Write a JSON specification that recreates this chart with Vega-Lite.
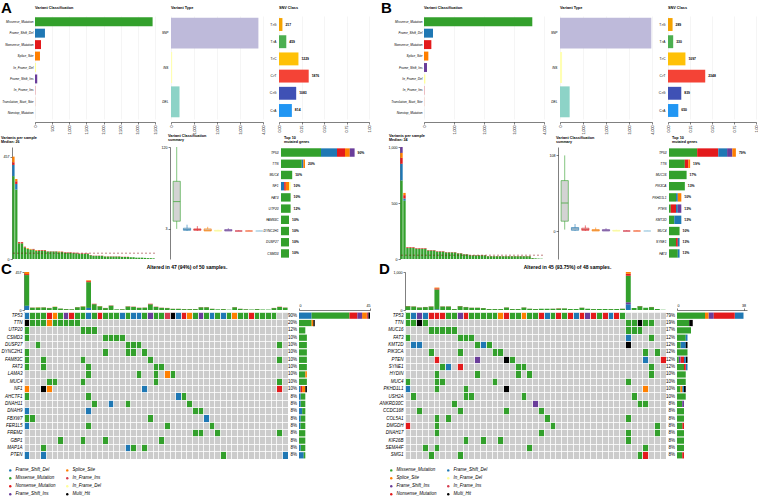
{
 "$schema": "https://vega.github.io/schema/vega-lite/v6.json",
 "padding": {"left": 0, "top": 1, "right": 0, "bottom": 0},
 "background": "#FFFFFF",
 "config": {
  "font": "Liberation Sans",
  "view": {"stroke": null},
  "axis": {"labelFontSize": 3.6, "labelColor": "#000000", "tickColor": "#000000", "domainColor": "#000000", "tickSize": 2, "tickWidth": 0.5, "domainWidth": 0.5, "labelPadding": 1, "grid": false, "gridColor": "#EBEBEB", "gridWidth": 0.5},
  "title": {"fontSize": 3.8, "fontWeight": "bold", "anchor": "start", "frame": "group", "offset": 6, "baseline": "alphabetic", "subtitleFontSize": 3.6, "subtitleFontWeight": "bold", "subtitlePadding": 1, "color": "#000000", "subtitleColor": "#000000"}
 },
 "datasets": {
  "aVC": [{"c":"Missense_Mutation","n":3430},{"c":"Frame_Shift_Del","n":290},{"c":"Nonsense_Mutation","n":175},{"c":"Splice_Site","n":145},{"c":"In_Frame_Del","n":30},{"c":"Frame_Shift_Ins","n":65},{"c":"In_Frame_Ins","n":8},{"c":"Translation_Start_Site","n":4},{"c":"Nonstop_Mutation","n":2}],
  "bVC": [{"c":"Missense_Mutation","n":3610},{"c":"Frame_Shift_Del","n":300},{"c":"Nonsense_Mutation","n":245},{"c":"Splice_Site","n":145},{"c":"Frame_Shift_Ins","n":100},{"c":"In_Frame_Del","n":45},{"c":"In_Frame_Ins","n":10},{"c":"Translation_Start_Site","n":5},{"c":"Nonstop_Mutation","n":3}],
  "aVT": [{"c":"SNP","n":3800},{"c":"INS","n":50},{"c":"DEL","n":370}],
  "bVT": [{"c":"SNP","n":3970},{"c":"INS","n":90},{"c":"DEL","n":420}],
  "aSNV": [{"c":"T>G","n":217,"f":0.038},{"c":"T>A","n":459,"f":0.081},{"c":"T>C","n":1229,"f":0.216},{"c":"C>T","n":1876,"f":0.330},{"c":"C>G","n":1083,"f":0.191},{"c":"C>A","n":814,"f":0.143}],
  "bSNV": [{"c":"T>G","n":289,"f":0.052},{"c":"T>A","n":330,"f":0.059},{"c":"T>C","n":1097,"f":0.198},{"c":"C>T","n":2348,"f":0.423},{"c":"C>G","n":839,"f":0.151},{"c":"C>A","n":650,"f":0.117}],
  "aBox": [{"c":"Missense_Mutation","lo":3,"q1":14,"med":42,"q3":71,"hi":120},{"c":"Frame_Shift_Del","lo":0,"q1":1,"med":2,"q3":4,"hi":9},{"c":"Nonsense_Mutation","lo":0,"q1":1,"med":2,"q3":3,"hi":7},{"c":"Splice_Site","lo":0,"q1":0,"med":1,"q3":3,"hi":6},{"c":"In_Frame_Del","lo":0,"q1":0,"med":0,"q3":1,"hi":2},{"c":"Frame_Shift_Ins","lo":0,"q1":0,"med":1,"q3":2,"hi":4},{"c":"In_Frame_Ins","lo":0,"q1":0,"med":0,"q3":0,"hi":1},{"c":"Translation_Start_Site","lo":0,"q1":0,"med":0,"q3":0,"hi":1},{"c":"Nonstop_Mutation","lo":0,"q1":0,"med":0,"q3":0,"hi":1}],
  "bBox": [{"c":"Missense_Mutation","lo":2,"q1":14,"med":40,"q3":72,"hi":108},{"c":"Frame_Shift_Del","lo":0,"q1":1,"med":3,"q3":5,"hi":10},{"c":"Nonsense_Mutation","lo":0,"q1":1,"med":2,"q3":4,"hi":8},{"c":"Splice_Site","lo":0,"q1":0,"med":1,"q3":2,"hi":5},{"c":"Frame_Shift_Ins","lo":0,"q1":0,"med":1,"q3":2,"hi":4},{"c":"In_Frame_Del","lo":0,"q1":0,"med":0,"q3":1,"hi":2},{"c":"In_Frame_Ins","lo":0,"q1":0,"med":0,"q3":0,"hi":1},{"c":"Translation_Start_Site","lo":0,"q1":0,"med":0,"q3":0,"hi":1},{"c":"Nonstop_Mutation","lo":0,"q1":0,"med":0,"q3":0,"hi":1}],
  "aTop": [
   {"g":"TP53","c":"Missense_Mutation","n":25,"pct":"90%"},{"g":"TP53","c":"Frame_Shift_Del","n":10,"pct":"90%"},{"g":"TP53","c":"Nonsense_Mutation","n":5,"pct":"90%"},{"g":"TP53","c":"Splice_Site","n":3,"pct":"90%"},{"g":"TP53","c":"Frame_Shift_Ins","n":3,"pct":"90%"},
   {"g":"TTN","c":"Missense_Mutation","n":13,"pct":"20%"},{"g":"TTN","c":"Frame_Shift_Del","n":1,"pct":"20%"},{"g":"TTN","c":"Splice_Site","n":1,"pct":"20%"},
   {"g":"MUC4","c":"Missense_Mutation","n":7,"pct":"10%"},
   {"g":"NF1","c":"Frame_Shift_Del","n":2,"pct":"10%"},{"g":"NF1","c":"Nonsense_Mutation","n":1,"pct":"10%"},{"g":"NF1","c":"Splice_Site","n":2,"pct":"10%"},{"g":"NF1","c":"In_Frame_Del","n":1,"pct":"10%"},
   {"g":"FAT3","c":"Missense_Mutation","n":6,"pct":"10%"},
   {"g":"UTP20","c":"Missense_Mutation","n":6,"pct":"12%"},
   {"g":"FAM83C","c":"Missense_Mutation","n":5,"pct":"10%"},
   {"g":"DYNC2H1","c":"Missense_Mutation","n":5,"pct":"10%"},
   {"g":"DUSP27","c":"Missense_Mutation","n":5,"pct":"10%"},
   {"g":"CSMD3","c":"Missense_Mutation","n":5,"pct":"10%"}],
  "bTop": [
   {"g":"TP53","c":"Missense_Mutation","n":16,"pct":"79%"},{"g":"TP53","c":"Nonsense_Mutation","n":12,"pct":"79%"},{"g":"TP53","c":"Frame_Shift_Del","n":5,"pct":"79%"},{"g":"TP53","c":"Frame_Shift_Ins","n":3,"pct":"79%"},{"g":"TP53","c":"Splice_Site","n":2,"pct":"79%"},
   {"g":"TTN","c":"Missense_Mutation","n":9,"pct":"19%"},{"g":"TTN","c":"Nonsense_Mutation","n":2,"pct":"19%"},{"g":"TTN","c":"Splice_Site","n":1,"pct":"19%"},
   {"g":"MUC16","c":"Missense_Mutation","n":10,"pct":"17%"},
   {"g":"PIK3CA","c":"Missense_Mutation","n":9,"pct":"13%"},
   {"g":"PKHD1L1","c":"Missense_Mutation","n":4,"pct":"10%"},{"g":"PKHD1L1","c":"Frame_Shift_Del","n":1,"pct":"10%"},{"g":"PKHD1L1","c":"Splice_Site","n":2,"pct":"10%"},
   {"g":"PTEN","c":"Missense_Mutation","n":1,"pct":"13%"},{"g":"PTEN","c":"Nonsense_Mutation","n":3,"pct":"13%"},{"g":"PTEN","c":"Frame_Shift_Del","n":1,"pct":"13%"},{"g":"PTEN","c":"Frame_Shift_Ins","n":2,"pct":"13%"},
   {"g":"KMT2D","c":"Missense_Mutation","n":3,"pct":"13%"},{"g":"KMT2D","c":"Frame_Shift_Del","n":4,"pct":"13%"},
   {"g":"MUC4","c":"Missense_Mutation","n":6,"pct":"10%"},
   {"g":"SYNE1","c":"Missense_Mutation","n":4,"pct":"13%"},{"g":"SYNE1","c":"Nonsense_Mutation","n":1,"pct":"13%"},{"g":"SYNE1","c":"Frame_Shift_Del","n":1,"pct":"13%"},
   {"g":"FAT3","c":"Missense_Mutation","n":5,"pct":"13%"},{"g":"FAT3","c":"Frame_Shift_Del","n":1,"pct":"13%"}],
  "aOrd": [{"c":"Missense_Mutation","r":1},{"c":"Frame_Shift_Del","r":2},{"c":"Nonsense_Mutation","r":3},{"c":"Splice_Site","r":4},{"c":"Frame_Shift_Ins","r":5},{"c":"In_Frame_Del","r":6},{"c":"In_Frame_Ins","r":7}],
  "bOrd": [{"c":"Missense_Mutation","r":1},{"c":"Nonsense_Mutation","r":2},{"c":"Frame_Shift_Del","r":3},{"c":"Frame_Shift_Ins","r":4},{"c":"Splice_Site","r":5},{"c":"In_Frame_Del","r":6}],
  "cOrd": [{"c":"Frame_Shift_Del","r":1},{"c":"Missense_Mutation","r":2},{"c":"Nonsense_Mutation","r":3},{"c":"Frame_Shift_Ins","r":4},{"c":"Splice_Site","r":5},{"c":"In_Frame_Ins","r":6},{"c":"In_Frame_Del","r":7},{"c":"Multi_Hit","r":8}],
  "dOrd": [{"c":"Missense_Mutation","r":1},{"c":"Splice_Site","r":2},{"c":"Frame_Shift_Ins","r":3},{"c":"Nonsense_Mutation","r":4},{"c":"Frame_Shift_Del","r":5},{"c":"In_Frame_Del","r":6},{"c":"In_Frame_Ins","r":7},{"c":"Multi_Hit","r":8}],
  "dOrdT": [{"c":"Frame_Shift_Del","r":1},{"c":"Frame_Shift_Ins","r":2},{"c":"Missense_Mutation","r":3},{"c":"Nonsense_Mutation","r":4},{"c":"Splice_Site","r":5}],
  "cTMB": [
   {"s":1,"c":"Missense_Mutation","n":370},{"s":1,"c":"Frame_Shift_Del","n":50},{"s":1,"c":"Nonsense_Mutation","n":12},{"s":1,"c":"Splice_Site","n":25},
   {"s":2,"c":"Missense_Mutation","n":28},{"s":2,"c":"Nonsense_Mutation","n":2},
   {"s":3,"c":"Missense_Mutation","n":30},{"s":3,"c":"Splice_Site","n":3},
   {"s":4,"c":"Missense_Mutation","n":31},{"s":4,"c":"Nonsense_Mutation","n":2},
   {"s":5,"c":"Missense_Mutation","n":23},{"s":5,"c":"Nonsense_Mutation","n":2},
   {"s":6,"c":"Missense_Mutation","n":37},{"s":6,"c":"Splice_Site","n":3},
   {"s":7,"c":"Missense_Mutation","n":17},{"s":7,"c":"Nonsense_Mutation","n":1},
   {"s":8,"c":"Missense_Mutation","n":11},{"s":8,"c":"Nonsense_Mutation","n":1},
   {"s":9,"c":"Missense_Mutation","n":9},{"s":9,"c":"Nonsense_Mutation","n":1},
   {"s":10,"c":"Missense_Mutation","n":33},{"s":10,"c":"Nonsense_Mutation","n":2},
   {"s":11,"c":"Missense_Mutation","n":42},{"s":11,"c":"Splice_Site","n":3},
   {"s":12,"c":"Missense_Mutation","n":310},{"s":12,"c":"Frame_Shift_Del","n":25},{"s":12,"c":"Nonsense_Mutation","n":12},{"s":12,"c":"Splice_Site","n":10},
   {"s":13,"c":"Missense_Mutation","n":70},{"s":13,"c":"Nonsense_Mutation","n":5},
   {"s":14,"c":"Missense_Mutation","n":45},{"s":14,"c":"Splice_Site","n":3},
   {"s":15,"c":"Missense_Mutation","n":23},{"s":15,"c":"Nonsense_Mutation","n":2},
   {"s":16,"c":"Missense_Mutation","n":52},{"s":16,"c":"Nonsense_Mutation","n":3},
   {"s":17,"c":"Missense_Mutation","n":8},
   {"s":18,"c":"Missense_Mutation","n":9},{"s":18,"c":"Nonsense_Mutation","n":1},
   {"s":19,"c":"Missense_Mutation","n":42},{"s":19,"c":"Nonsense_Mutation","n":3},
   {"s":20,"c":"Missense_Mutation","n":37},{"s":20,"c":"Nonsense_Mutation","n":3},
   {"s":21,"c":"Missense_Mutation","n":26},{"s":21,"c":"Nonsense_Mutation","n":2},
   {"s":22,"c":"Missense_Mutation","n":28},{"s":22,"c":"Nonsense_Mutation","n":2},
   {"s":23,"c":"Missense_Mutation","n":70},{"s":23,"c":"Nonsense_Mutation","n":5},
   {"s":24,"c":"Missense_Mutation","n":37},{"s":24,"c":"Nonsense_Mutation","n":3},
   {"s":25,"c":"Missense_Mutation","n":26},{"s":25,"c":"Nonsense_Mutation","n":2},
   {"s":26,"c":"Missense_Mutation","n":23},{"s":26,"c":"Nonsense_Mutation","n":2},
   {"s":27,"c":"Missense_Mutation","n":14},{"s":27,"c":"Nonsense_Mutation","n":1},
   {"s":28,"c":"Missense_Mutation","n":14},{"s":28,"c":"Nonsense_Mutation","n":1},
   {"s":29,"c":"Missense_Mutation","n":11},{"s":29,"c":"Nonsense_Mutation","n":1},
   {"s":30,"c":"Missense_Mutation","n":11},{"s":30,"c":"Nonsense_Mutation","n":1},
   {"s":31,"c":"Missense_Mutation","n":11},{"s":31,"c":"Nonsense_Mutation","n":1},
   {"s":32,"c":"Missense_Mutation","n":33},{"s":32,"c":"Nonsense_Mutation","n":2},
   {"s":33,"c":"Missense_Mutation","n":33},{"s":33,"c":"Nonsense_Mutation","n":2},
   {"s":34,"c":"Missense_Mutation","n":14},{"s":34,"c":"Nonsense_Mutation","n":1},
   {"s":35,"c":"Missense_Mutation","n":8},
   {"s":36,"c":"Missense_Mutation","n":11},{"s":36,"c":"Nonsense_Mutation","n":1},
   {"s":37,"c":"Missense_Mutation","n":4},
   {"s":38,"c":"Missense_Mutation","n":33},{"s":38,"c":"Nonsense_Mutation","n":2},
   {"s":39,"c":"Missense_Mutation","n":14},{"s":39,"c":"Nonsense_Mutation","n":1},
   {"s":40,"c":"Missense_Mutation","n":9},{"s":40,"c":"Nonsense_Mutation","n":1},
   {"s":41,"c":"Missense_Mutation","n":6},
   {"s":42,"c":"Missense_Mutation","n":11},{"s":42,"c":"Nonsense_Mutation","n":1},
   {"s":43,"c":"Missense_Mutation","n":6},
   {"s":44,"c":"Missense_Mutation","n":5},
   {"s":45,"c":"Missense_Mutation","n":23},{"s":45,"c":"Nonsense_Mutation","n":2},
   {"s":46,"c":"Missense_Mutation","n":37},{"s":46,"c":"Nonsense_Mutation","n":3},
   {"s":47,"c":"Missense_Mutation","n":28},{"s":47,"c":"Nonsense_Mutation","n":2},
   {"s":48,"c":"Missense_Mutation","n":6},{"s":49,"c":"Missense_Mutation","n":4},{"s":50,"c":"Missense_Mutation","n":3}],
  "dTMB": [
   {"s":1,"c":"Missense_Mutation","n":100},{"s":1,"c":"Nonsense_Mutation","n":6},
   {"s":2,"c":"Missense_Mutation","n":92},{"s":2,"c":"Nonsense_Mutation","n":5},
   {"s":3,"c":"Missense_Mutation","n":66},{"s":3,"c":"Nonsense_Mutation","n":4},
   {"s":4,"c":"Missense_Mutation","n":76},{"s":4,"c":"Nonsense_Mutation","n":4},
   {"s":5,"c":"Missense_Mutation","n":92},{"s":5,"c":"Nonsense_Mutation","n":5},
   {"s":6,"c":"Frame_Shift_Del","n":20},{"s":6,"c":"Missense_Mutation","n":520},{"s":6,"c":"Nonsense_Mutation","n":30},{"s":6,"c":"Splice_Site","n":20},
   {"s":7,"c":"Missense_Mutation","n":92},{"s":7,"c":"Nonsense_Mutation","n":5},
   {"s":8,"c":"Missense_Mutation","n":92},{"s":8,"c":"Nonsense_Mutation","n":5},
   {"s":9,"c":"Missense_Mutation","n":25},{"s":9,"c":"Nonsense_Mutation","n":2},
   {"s":10,"c":"Missense_Mutation","n":100},{"s":10,"c":"Nonsense_Mutation","n":6},
   {"s":11,"c":"Missense_Mutation","n":76},{"s":11,"c":"Nonsense_Mutation","n":4},
   {"s":12,"c":"Missense_Mutation","n":59},{"s":12,"c":"Nonsense_Mutation","n":3},
   {"s":13,"c":"Missense_Mutation","n":59},{"s":13,"c":"Nonsense_Mutation","n":3},
   {"s":14,"c":"Missense_Mutation","n":50},{"s":14,"c":"Nonsense_Mutation","n":3},
   {"s":15,"c":"Missense_Mutation","n":25},{"s":15,"c":"Nonsense_Mutation","n":2},
   {"s":16,"c":"Missense_Mutation","n":25},{"s":16,"c":"Nonsense_Mutation","n":2},
   {"s":17,"c":"Missense_Mutation","n":25},{"s":17,"c":"Nonsense_Mutation","n":2},
   {"s":18,"c":"Missense_Mutation","n":66},{"s":18,"c":"Nonsense_Mutation","n":4},
   {"s":19,"c":"Missense_Mutation","n":25},{"s":19,"c":"Nonsense_Mutation","n":2},
   {"s":20,"c":"Missense_Mutation","n":25},{"s":20,"c":"Nonsense_Mutation","n":2},
   {"s":21,"c":"Missense_Mutation","n":66},{"s":21,"c":"Nonsense_Mutation","n":4},
   {"s":22,"c":"Missense_Mutation","n":33},{"s":22,"c":"Nonsense_Mutation","n":2},
   {"s":23,"c":"Missense_Mutation","n":25},{"s":23,"c":"Nonsense_Mutation","n":2},
   {"s":24,"c":"Missense_Mutation","n":33},{"s":24,"c":"Nonsense_Mutation","n":2},
   {"s":25,"c":"Missense_Mutation","n":33},{"s":25,"c":"Nonsense_Mutation","n":2},
   {"s":26,"c":"Missense_Mutation","n":33},{"s":26,"c":"Nonsense_Mutation","n":2},
   {"s":27,"c":"Missense_Mutation","n":42},{"s":27,"c":"Nonsense_Mutation","n":2},
   {"s":28,"c":"Missense_Mutation","n":42},{"s":28,"c":"Nonsense_Mutation","n":2},
   {"s":29,"c":"Missense_Mutation","n":25},{"s":29,"c":"Nonsense_Mutation","n":2},
   {"s":30,"c":"Missense_Mutation","n":25},{"s":30,"c":"Nonsense_Mutation","n":2},
   {"s":31,"c":"Missense_Mutation","n":59},{"s":31,"c":"Nonsense_Mutation","n":3},
   {"s":32,"c":"Missense_Mutation","n":33},{"s":32,"c":"Nonsense_Mutation","n":2},
   {"s":33,"c":"Missense_Mutation","n":25},{"s":33,"c":"Nonsense_Mutation","n":2},
   {"s":34,"c":"Missense_Mutation","n":25},{"s":34,"c":"Nonsense_Mutation","n":2},
   {"s":35,"c":"Missense_Mutation","n":25},{"s":35,"c":"Nonsense_Mutation","n":2},
   {"s":36,"c":"Missense_Mutation","n":25},{"s":36,"c":"Nonsense_Mutation","n":2},
   {"s":37,"c":"Missense_Mutation","n":25},{"s":37,"c":"Nonsense_Mutation","n":2},
   {"s":38,"c":"Missense_Mutation","n":33},{"s":38,"c":"Nonsense_Mutation","n":2},
   {"s":39,"c":"Frame_Shift_Del","n":150},{"s":39,"c":"Frame_Shift_Ins","n":53},{"s":39,"c":"Missense_Mutation","n":700},{"s":39,"c":"Nonsense_Mutation","n":53},{"s":39,"c":"Splice_Site","n":44},
   {"s":40,"c":"Missense_Mutation","n":50},{"s":40,"c":"Nonsense_Mutation","n":3},
   {"s":41,"c":"Missense_Mutation","n":100},{"s":41,"c":"Nonsense_Mutation","n":6},
   {"s":42,"c":"Missense_Mutation","n":59},{"s":42,"c":"Nonsense_Mutation","n":3},
   {"s":43,"c":"Missense_Mutation","n":76},{"s":43,"c":"Nonsense_Mutation","n":4},
   {"s":44,"c":"Missense_Mutation","n":25},{"s":44,"c":"Nonsense_Mutation","n":2},
   {"s":45,"c":"Missense_Mutation","n":8},{"s":45,"c":"Nonsense_Mutation","n":1},
   {"s":46,"c":"Missense_Mutation","n":6},{"s":47,"c":"Missense_Mutation","n":4},{"s":48,"c":"Missense_Mutation","n":3}],
  "cGenes": [{"g":"TP53","pct":"90%"},{"g":"TTN","pct":"20%"},{"g":"UTP20","pct":"12%"},{"g":"CSMD3","pct":"10%"},{"g":"DUSP27","pct":"10%"},{"g":"DYNC2H1","pct":"10%"},{"g":"FAM83C","pct":"10%"},{"g":"FAT3","pct":"10%"},{"g":"LAMA3","pct":"10%"},{"g":"MUC4","pct":"10%"},{"g":"NF1","pct":"10%"},{"g":"AHCTF1","pct":"8%"},{"g":"DNAH11","pct":"8%"},{"g":"DNAH9","pct":"8%"},{"g":"FBXW7","pct":"8%"},{"g":"FER1L5","pct":"8%"},{"g":"FREM2","pct":"8%"},{"g":"GBP1","pct":"8%"},{"g":"MAP1A","pct":"8%"},{"g":"PTEN","pct":"8%"}],
  "dGenes": [{"g":"TP53","pct":"79%"},{"g":"TTN","pct":"19%"},{"g":"MUC16","pct":"17%"},{"g":"FAT3","pct":"12%"},{"g":"KMT2D","pct":"12%"},{"g":"PIK3CA","pct":"12%"},{"g":"PTEN","pct":"12%"},{"g":"SYNE1","pct":"12%"},{"g":"HYDIN","pct":"10%"},{"g":"MUC4","pct":"10%"},{"g":"PKHD1L1","pct":"10%"},{"g":"USH2A","pct":"10%"},{"g":"ANKRD30C","pct":"8%"},{"g":"CCDC168","pct":"8%"},{"g":"COL5A1","pct":"8%"},{"g":"DMGDH","pct":"8%"},{"g":"DNAH17","pct":"8%"},{"g":"KIF26B","pct":"8%"},{"g":"SEMA4F","pct":"8%"},{"g":"SMG1","pct":"8%"}],
  "cCells": [
   {"g":"TP53","s":1,"c":"Frame_Shift_Del"},{"g":"TP53","s":2,"c":"Missense_Mutation"},{"g":"TP53","s":3,"c":"Missense_Mutation"},{"g":"TP53","s":4,"c":"Missense_Mutation"},{"g":"TP53","s":5,"c":"Nonsense_Mutation"},{"g":"TP53","s":6,"c":"Splice_Site"},{"g":"TP53","s":7,"c":"Missense_Mutation"},{"g":"TP53","s":8,"c":"Frame_Shift_Ins"},{"g":"TP53","s":9,"c":"Nonsense_Mutation"},{"g":"TP53","s":10,"c":"Missense_Mutation"},{"g":"TP53","s":11,"c":"Missense_Mutation"},{"g":"TP53","s":12,"c":"Frame_Shift_Del"},{"g":"TP53","s":13,"c":"Missense_Mutation"},{"g":"TP53","s":14,"c":"Nonsense_Mutation"},{"g":"TP53","s":15,"c":"Missense_Mutation"},{"g":"TP53","s":16,"c":"Missense_Mutation"},{"g":"TP53","s":17,"c":"Missense_Mutation"},{"g":"TP53","s":18,"c":"Frame_Shift_Del"},{"g":"TP53","s":19,"c":"Missense_Mutation"},{"g":"TP53","s":20,"c":"Frame_Shift_Del"},{"g":"TP53","s":21,"c":"Frame_Shift_Del"},{"g":"TP53","s":22,"c":"Missense_Mutation"},{"g":"TP53","s":23,"c":"Frame_Shift_Ins"},{"g":"TP53","s":24,"c":"Missense_Mutation"},{"g":"TP53","s":25,"c":"Missense_Mutation"},{"g":"TP53","s":26,"c":"In_Frame_Ins"},{"g":"TP53","s":27,"c":"Multi_Hit"},{"g":"TP53","s":28,"c":"Frame_Shift_Del"},{"g":"TP53","s":29,"c":"Nonsense_Mutation"},{"g":"TP53","s":30,"c":"Splice_Site"},{"g":"TP53","s":31,"c":"Missense_Mutation"},{"g":"TP53","s":32,"c":"Frame_Shift_Ins"},{"g":"TP53","s":33,"c":"Missense_Mutation"},{"g":"TP53","s":34,"c":"Frame_Shift_Del"},{"g":"TP53","s":35,"c":"Missense_Mutation"},{"g":"TP53","s":36,"c":"Frame_Shift_Del"},{"g":"TP53","s":37,"c":"Missense_Mutation"},{"g":"TP53","s":38,"c":"Splice_Site"},{"g":"TP53","s":39,"c":"Missense_Mutation"},{"g":"TP53","s":40,"c":"Missense_Mutation"},{"g":"TP53","s":41,"c":"Nonsense_Mutation"},{"g":"TP53","s":42,"c":"Missense_Mutation"},{"g":"TP53","s":43,"c":"Missense_Mutation"},{"g":"TP53","s":44,"c":"Missense_Mutation"},{"g":"TP53","s":45,"c":"Missense_Mutation"},
   {"g":"TTN","s":1,"c":"Multi_Hit"},{"g":"TTN","s":2,"c":"Missense_Mutation"},{"g":"TTN","s":3,"c":"Missense_Mutation"},{"g":"TTN","s":4,"c":"Missense_Mutation"},{"g":"TTN","s":5,"c":"Splice_Site"},{"g":"TTN","s":6,"c":"Missense_Mutation"},{"g":"TTN","s":7,"c":"Missense_Mutation"},{"g":"TTN","s":8,"c":"Missense_Mutation"},{"g":"TTN","s":9,"c":"Missense_Mutation"},{"g":"TTN","s":10,"c":"Missense_Mutation"},
   {"g":"UTP20","s":1,"c":"Missense_Mutation"},{"g":"UTP20","s":11,"c":"Missense_Mutation"},{"g":"UTP20","s":12,"c":"Missense_Mutation"},{"g":"UTP20","s":13,"c":"Missense_Mutation"},
   {"g":"CSMD3","s":1,"c":"Missense_Mutation"},{"g":"CSMD3","s":15,"c":"Missense_Mutation"},{"g":"CSMD3","s":16,"c":"Missense_Mutation"},{"g":"CSMD3","s":17,"c":"Missense_Mutation"},{"g":"CSMD3","s":18,"c":"Missense_Mutation"},
   {"g":"DUSP27","s":3,"c":"Missense_Mutation"},{"g":"DUSP27","s":19,"c":"Missense_Mutation"},{"g":"DUSP27","s":20,"c":"Missense_Mutation"},{"g":"DUSP27","s":21,"c":"Missense_Mutation"},{"g":"DUSP27","s":46,"c":"Missense_Mutation"},
   {"g":"DYNC2H1","s":1,"c":"Missense_Mutation"},{"g":"DYNC2H1","s":15,"c":"Missense_Mutation"},{"g":"DYNC2H1","s":19,"c":"Missense_Mutation"},{"g":"DYNC2H1","s":20,"c":"Missense_Mutation"},{"g":"DYNC2H1","s":22,"c":"Missense_Mutation"},
   {"g":"FAM83C","s":1,"c":"Missense_Mutation"},{"g":"FAM83C","s":4,"c":"Missense_Mutation"},{"g":"FAM83C","s":11,"c":"Missense_Mutation"},{"g":"FAM83C","s":23,"c":"Missense_Mutation"},{"g":"FAM83C","s":46,"c":"Missense_Mutation"},
   {"g":"FAT3","s":1,"c":"Missense_Mutation"},{"g":"FAT3","s":4,"c":"Missense_Mutation"},{"g":"FAT3","s":12,"c":"Missense_Mutation"},{"g":"FAT3","s":24,"c":"Missense_Mutation"},{"g":"FAT3","s":25,"c":"Missense_Mutation"},
   {"g":"LAMA3","s":12,"c":"Missense_Mutation"},{"g":"LAMA3","s":21,"c":"Missense_Mutation"},{"g":"LAMA3","s":24,"c":"Missense_Mutation"},{"g":"LAMA3","s":26,"c":"Splice_Site"},{"g":"LAMA3","s":27,"c":"Missense_Mutation"},
   {"g":"MUC4","s":5,"c":"Missense_Mutation"},{"g":"MUC4","s":6,"c":"Missense_Mutation"},{"g":"MUC4","s":11,"c":"Missense_Mutation"},{"g":"MUC4","s":24,"c":"Missense_Mutation"},{"g":"MUC4","s":46,"c":"Missense_Mutation"},
   {"g":"NF1","s":1,"c":"Splice_Site"},{"g":"NF1","s":4,"c":"Multi_Hit"},{"g":"NF1","s":5,"c":"Splice_Site"},{"g":"NF1","s":22,"c":"Frame_Shift_Del"},{"g":"NF1","s":46,"c":"Nonsense_Mutation"},
   {"g":"AHCTF1","s":1,"c":"Missense_Mutation"},{"g":"AHCTF1","s":12,"c":"Missense_Mutation"},{"g":"AHCTF1","s":28,"c":"Frame_Shift_Del"},{"g":"AHCTF1","s":29,"c":"Missense_Mutation"},
   {"g":"DNAH11","s":13,"c":"Missense_Mutation"},{"g":"DNAH11","s":16,"c":"Frame_Shift_Del"},{"g":"DNAH11","s":19,"c":"Missense_Mutation"},{"g":"DNAH11","s":30,"c":"Missense_Mutation"},
   {"g":"DNAH9","s":1,"c":"Frame_Shift_Del"},{"g":"DNAH9","s":12,"c":"Frame_Shift_Del"},{"g":"DNAH9","s":31,"c":"Missense_Mutation"},{"g":"DNAH9","s":32,"c":"Missense_Mutation"},
   {"g":"FBXW7","s":1,"c":"Missense_Mutation"},{"g":"FBXW7","s":2,"c":"Missense_Mutation"},{"g":"FBXW7","s":23,"c":"Missense_Mutation"},{"g":"FBXW7","s":33,"c":"Frame_Shift_Del"},
   {"g":"FER1L5","s":1,"c":"Frame_Shift_Del"},{"g":"FER1L5","s":12,"c":"Missense_Mutation"},{"g":"FER1L5","s":26,"c":"Missense_Mutation"},{"g":"FER1L5","s":34,"c":"Missense_Mutation"},
   {"g":"FREM2","s":31,"c":"Missense_Mutation"},{"g":"FREM2","s":32,"c":"Missense_Mutation"},{"g":"FREM2","s":35,"c":"Missense_Mutation"},{"g":"FREM2","s":46,"c":"Missense_Mutation"},
   {"g":"GBP1","s":7,"c":"Missense_Mutation"},{"g":"GBP1","s":11,"c":"Missense_Mutation"},{"g":"GBP1","s":15,"c":"Missense_Mutation"},{"g":"GBP1","s":25,"c":"Missense_Mutation"},
   {"g":"MAP1A","s":4,"c":"Missense_Mutation"},{"g":"MAP1A","s":19,"c":"Frame_Shift_Del"},{"g":"MAP1A","s":20,"c":"Missense_Mutation"},{"g":"MAP1A","s":22,"c":"Missense_Mutation"},
   {"g":"PTEN","s":1,"c":"Frame_Shift_Del"},{"g":"PTEN","s":4,"c":"Frame_Shift_Del"},{"g":"PTEN","s":36,"c":"Missense_Mutation"},{"g":"PTEN","s":47,"c":"Frame_Shift_Del"}],
  "dCells": [
   {"g":"TP53","s":1,"c":"Missense_Mutation"},{"g":"TP53","s":2,"c":"Frame_Shift_Del"},{"g":"TP53","s":3,"c":"Frame_Shift_Ins"},{"g":"TP53","s":4,"c":"Frame_Shift_Del"},{"g":"TP53","s":5,"c":"Nonsense_Mutation"},{"g":"TP53","s":6,"c":"Nonsense_Mutation"},{"g":"TP53","s":7,"c":"Nonsense_Mutation"},{"g":"TP53","s":8,"c":"Missense_Mutation"},{"g":"TP53","s":9,"c":"Missense_Mutation"},{"g":"TP53","s":10,"c":"Frame_Shift_Ins"},{"g":"TP53","s":11,"c":"Nonsense_Mutation"},{"g":"TP53","s":12,"c":"Missense_Mutation"},{"g":"TP53","s":13,"c":"Missense_Mutation"},{"g":"TP53","s":14,"c":"Missense_Mutation"},{"g":"TP53","s":15,"c":"Missense_Mutation"},{"g":"TP53","s":16,"c":"Missense_Mutation"},{"g":"TP53","s":17,"c":"Splice_Site"},{"g":"TP53","s":18,"c":"Nonsense_Mutation"},{"g":"TP53","s":19,"c":"Missense_Mutation"},{"g":"TP53","s":20,"c":"Missense_Mutation"},{"g":"TP53","s":21,"c":"Splice_Site"},{"g":"TP53","s":22,"c":"Missense_Mutation"},{"g":"TP53","s":23,"c":"Missense_Mutation"},{"g":"TP53","s":24,"c":"Nonsense_Mutation"},{"g":"TP53","s":25,"c":"Frame_Shift_Del"},{"g":"TP53","s":26,"c":"Missense_Mutation"},{"g":"TP53","s":27,"c":"Nonsense_Mutation"},{"g":"TP53","s":28,"c":"Missense_Mutation"},{"g":"TP53","s":29,"c":"Nonsense_Mutation"},{"g":"TP53","s":30,"c":"Frame_Shift_Del"},{"g":"TP53","s":31,"c":"Nonsense_Mutation"},{"g":"TP53","s":32,"c":"Frame_Shift_Ins"},{"g":"TP53","s":33,"c":"Nonsense_Mutation"},{"g":"TP53","s":34,"c":"Missense_Mutation"},{"g":"TP53","s":35,"c":"Nonsense_Mutation"},{"g":"TP53","s":36,"c":"Frame_Shift_Del"},{"g":"TP53","s":37,"c":"Nonsense_Mutation"},{"g":"TP53","s":38,"c":"Missense_Mutation"},
   {"g":"TTN","s":1,"c":"Missense_Mutation"},{"g":"TTN","s":2,"c":"Missense_Mutation"},{"g":"TTN","s":3,"c":"Multi_Hit"},{"g":"TTN","s":4,"c":"Missense_Mutation"},{"g":"TTN","s":39,"c":"Missense_Mutation"},{"g":"TTN","s":40,"c":"Missense_Mutation"},{"g":"TTN","s":41,"c":"Multi_Hit"},{"g":"TTN","s":42,"c":"Missense_Mutation"},{"g":"TTN","s":43,"c":"Missense_Mutation"},
   {"g":"MUC16","s":5,"c":"Missense_Mutation"},{"g":"MUC16","s":6,"c":"Missense_Mutation"},{"g":"MUC16","s":7,"c":"Missense_Mutation"},{"g":"MUC16","s":8,"c":"Missense_Mutation"},{"g":"MUC16","s":9,"c":"Missense_Mutation"},{"g":"MUC16","s":39,"c":"Missense_Mutation"},{"g":"MUC16","s":40,"c":"Missense_Mutation"},{"g":"MUC16","s":41,"c":"Missense_Mutation"},
   {"g":"FAT3","s":1,"c":"Missense_Mutation"},{"g":"FAT3","s":10,"c":"Missense_Mutation"},{"g":"FAT3","s":11,"c":"Missense_Mutation"},{"g":"FAT3","s":12,"c":"Missense_Mutation"},{"g":"FAT3","s":39,"c":"Frame_Shift_Del"},{"g":"FAT3","s":43,"c":"Missense_Mutation"},
   {"g":"KMT2D","s":2,"c":"Frame_Shift_Del"},{"g":"KMT2D","s":3,"c":"Frame_Shift_Del"},{"g":"KMT2D","s":13,"c":"Missense_Mutation"},{"g":"KMT2D","s":14,"c":"Frame_Shift_Del"},{"g":"KMT2D","s":15,"c":"Missense_Mutation"},{"g":"KMT2D","s":39,"c":"Multi_Hit"},
   {"g":"PIK3CA","s":5,"c":"Missense_Mutation"},{"g":"PIK3CA","s":10,"c":"Missense_Mutation"},{"g":"PIK3CA","s":16,"c":"Missense_Mutation"},{"g":"PIK3CA","s":17,"c":"Missense_Mutation"},{"g":"PIK3CA","s":42,"c":"Missense_Mutation"},{"g":"PIK3CA","s":44,"c":"Missense_Mutation"},
   {"g":"PTEN","s":6,"c":"Nonsense_Mutation"},{"g":"PTEN","s":13,"c":"Frame_Shift_Ins"},{"g":"PTEN","s":18,"c":"Multi_Hit"},{"g":"PTEN","s":19,"c":"Missense_Mutation"},{"g":"PTEN","s":42,"c":"Frame_Shift_Del"},{"g":"PTEN","s":45,"c":"Nonsense_Mutation"},
   {"g":"SYNE1","s":7,"c":"Missense_Mutation"},{"g":"SYNE1","s":8,"c":"Frame_Shift_Del"},{"g":"SYNE1","s":10,"c":"Nonsense_Mutation"},{"g":"SYNE1","s":20,"c":"Missense_Mutation"},{"g":"SYNE1","s":21,"c":"Missense_Mutation"},{"g":"SYNE1","s":43,"c":"Missense_Mutation"},
   {"g":"HYDIN","s":6,"c":"Missense_Mutation"},{"g":"HYDIN","s":13,"c":"Missense_Mutation"},{"g":"HYDIN","s":20,"c":"Missense_Mutation"},{"g":"HYDIN","s":22,"c":"Missense_Mutation"},{"g":"HYDIN","s":43,"c":"Missense_Mutation"},
   {"g":"MUC4","s":1,"c":"Missense_Mutation"},{"g":"MUC4","s":6,"c":"Missense_Mutation"},{"g":"MUC4","s":7,"c":"Missense_Mutation"},{"g":"MUC4","s":16,"c":"Missense_Mutation"},{"g":"MUC4","s":39,"c":"Missense_Mutation"},
   {"g":"PKHD1L1","s":1,"c":"Frame_Shift_Del"},{"g":"PKHD1L1","s":6,"c":"Missense_Mutation"},{"g":"PKHD1L1","s":11,"c":"Missense_Mutation"},{"g":"PKHD1L1","s":18,"c":"Multi_Hit"},{"g":"PKHD1L1","s":42,"c":"Splice_Site"},
   {"g":"USH2A","s":2,"c":"Missense_Mutation"},{"g":"USH2A","s":11,"c":"Missense_Mutation"},{"g":"USH2A","s":12,"c":"Missense_Mutation"},{"g":"USH2A","s":21,"c":"Missense_Mutation"},{"g":"USH2A","s":40,"c":"Missense_Mutation"},
   {"g":"ANKRD30C","s":9,"c":"Missense_Mutation"},{"g":"ANKRD30C","s":23,"c":"Frame_Shift_Ins"},{"g":"ANKRD30C","s":41,"c":"Missense_Mutation"},{"g":"ANKRD30C","s":42,"c":"Missense_Mutation"},
   {"g":"CCDC168","s":3,"c":"Missense_Mutation"},{"g":"CCDC168","s":10,"c":"Missense_Mutation"},{"g":"CCDC168","s":18,"c":"Missense_Mutation"},{"g":"CCDC168","s":24,"c":"Missense_Mutation"},
   {"g":"COL5A1","s":6,"c":"Missense_Mutation"},{"g":"COL5A1","s":8,"c":"Missense_Mutation"},{"g":"COL5A1","s":25,"c":"Missense_Mutation"},{"g":"COL5A1","s":39,"c":"Missense_Mutation"},
   {"g":"DMGDH","s":1,"c":"Nonsense_Mutation"},{"g":"DMGDH","s":6,"c":"Missense_Mutation"},{"g":"DMGDH","s":26,"c":"Missense_Mutation"},{"g":"DMGDH","s":44,"c":"Missense_Mutation"},
   {"g":"DNAH17","s":6,"c":"Missense_Mutation"},{"g":"DNAH17","s":24,"c":"Missense_Mutation"},{"g":"DNAH17","s":39,"c":"Missense_Mutation"},{"g":"DNAH17","s":44,"c":"Missense_Mutation"},
   {"g":"KIF26B","s":11,"c":"Missense_Mutation"},{"g":"KIF26B","s":14,"c":"Missense_Mutation"},{"g":"KIF26B","s":17,"c":"Missense_Mutation"},{"g":"KIF26B","s":39,"c":"Missense_Mutation"},
   {"g":"SEMA4F","s":4,"c":"Missense_Mutation"},{"g":"SEMA4F","s":6,"c":"Missense_Mutation"},{"g":"SEMA4F","s":22,"c":"Missense_Mutation"},{"g":"SEMA4F","s":42,"c":"Missense_Mutation"},
   {"g":"SMG1","s":5,"c":"Missense_Mutation"},{"g":"SMG1","s":10,"c":"Missense_Mutation"},{"g":"SMG1","s":41,"c":"Missense_Mutation"},{"g":"SMG1","s":42,"c":"Nonsense_Mutation"}]
 },
 "spacing": 1,
 "resolve": {"scale": {"color": "independent", "stroke": "independent"}, "legend": {"color": "independent"}},
 "vconcat": [
  {
   "spacing": -1,
   "resolve": {"scale": {"color": "independent", "stroke": "independent"}, "legend": {"color": "independent"}},
   "vconcat": [
    {
     "spacing": 16, "bounds": "flush",
     "resolve": {"scale": {"color": "independent", "stroke": "independent"}, "legend": {"color": "independent"}},
     "hconcat": [
      {"width": 7, "height": 103, "title": {"text": "A", "fontSize": 15, "dx": -11, "offset": 0}, "data": {"values": []}, "mark": "point"},
      {"width": 120, "height": 103, "title": "Variant Classification", "data": {"name": "aVC"}, "mark": {"type": "bar"},
       "encoding": {
        "y": {"field": "c", "type": "nominal", "sort": null, "title": null, "scale": {"paddingInner": 0.22, "paddingOuter": 0.11}, "axis": {"labelFontStyle": "italic", "labelFontSize": 3.2, "ticks": false, "domain": false, "labelPadding": 2}},
        "x": {"field": "n", "type": "quantitative", "title": null, "scale": {"domain": [0, 3500]}, "axis": {"values": [0,500,1000,1500,2000,2500,3000,3500], "labelAngle": -90, "grid": true, "offset": 3}},
        "color": {"field": "c", "type": "nominal", "scale": {"domain": ["Missense_Mutation","Frame_Shift_Del","Nonsense_Mutation","Splice_Site","In_Frame_Del","Frame_Shift_Ins","In_Frame_Ins","Translation_Start_Site","Nonstop_Mutation","Multi_Hit"], "range": ["#33A02C","#1F78B4","#E31A1C","#FF7F00","#FFFF99","#6A3D9A","#D53E4F","#F46D43","#A6CEE3","#000000"]}, "legend": null}
       }},
      {"width": 92, "height": 103, "title": "Variant Type", "data": {"name": "aVT"}, "mark": {"type": "bar"},
       "encoding": {
        "y": {"field": "c", "type": "nominal", "sort": null, "title": null, "scale": {"paddingInner": 0.1, "paddingOuter": 0.05}, "axis": {"labelFontStyle": "italic", "labelFontSize": 3.2, "ticks": false, "domain": false, "labelPadding": 3}},
        "x": {"field": "n", "type": "quantitative", "title": null, "scale": {"domain": [0, 4000]}, "axis": {"values": [0,1000,2000,3000,4000], "labelAngle": -90, "grid": true, "offset": 3}},
        "color": {"field": "c", "type": "nominal", "scale": {"domain": ["SNP","INS","DEL"], "range": ["#BEBADA","#FFFFB3","#8DD3C7"]}, "legend": null}
       }},
      {"width": 90, "height": 103, "title": "SNV Class", "data": {"name": "aSNV"},
       "encoding": {
        "y": {"field": "c", "type": "nominal", "sort": null, "title": null, "scale": {"paddingInner": 0.25, "paddingOuter": 0.12}, "axis": {"ticks": false, "domain": false, "labelPadding": 3, "labelFontSize": 3.2}},
        "x": {"field": "f", "type": "quantitative", "title": null, "scale": {"domain": [0, 1]}, "axis": {"values": [0,0.25,0.5,0.75,1], "format": ".2f", "labelAngle": -90, "grid": true, "offset": 3}}
       },
       "layer": [
        {"mark": {"type": "bar"}, "encoding": {"color": {"field": "c", "type": "nominal", "scale": {"domain": ["T>G","T>A","T>C","C>T","C>G","C>A"], "range": ["#F5A300","#4CAF50","#FFC107","#F44336","#3F51B5","#2196F3"]}, "legend": null}}},
        {"mark": {"type": "text", "align": "left", "dx": 3, "fontSize": 3.4, "fontWeight": "bold"}, "encoding": {"text": {"field": "n"}}}
       ]},
      {"width": 23, "height": 103, "title": {"text": "B", "fontSize": 15, "dx": -4, "offset": 0}, "data": {"values": []}, "mark": "point"},
      {"width": 120, "height": 103, "title": "Variant Classification", "data": {"name": "bVC"}, "mark": {"type": "bar"},
       "encoding": {
        "y": {"field": "c", "type": "nominal", "sort": null, "title": null, "scale": {"paddingInner": 0.22, "paddingOuter": 0.11}, "axis": {"labelFontStyle": "italic", "labelFontSize": 3.2, "ticks": false, "domain": false, "labelPadding": 2}},
        "x": {"field": "n", "type": "quantitative", "title": null, "scale": {"domain": [0, 4000]}, "axis": {"values": [0,1000,2000,3000,4000], "labelAngle": -90, "grid": true, "offset": 3}},
        "color": {"field": "c", "type": "nominal", "scale": {"domain": ["Missense_Mutation","Frame_Shift_Del","Nonsense_Mutation","Splice_Site","In_Frame_Del","Frame_Shift_Ins","In_Frame_Ins","Translation_Start_Site","Nonstop_Mutation","Multi_Hit"], "range": ["#33A02C","#1F78B4","#E31A1C","#FF7F00","#FFFF99","#6A3D9A","#D53E4F","#F46D43","#A6CEE3","#000000"]}, "legend": null}
       }},
      {"width": 92, "height": 103, "title": "Variant Type", "data": {"name": "bVT"}, "mark": {"type": "bar"},
       "encoding": {
        "y": {"field": "c", "type": "nominal", "sort": null, "title": null, "scale": {"paddingInner": 0.1, "paddingOuter": 0.05}, "axis": {"labelFontStyle": "italic", "labelFontSize": 3.2, "ticks": false, "domain": false, "labelPadding": 3}},
        "x": {"field": "n", "type": "quantitative", "title": null, "scale": {"domain": [0, 4000]}, "axis": {"values": [0,1000,2000,3000,4000], "labelAngle": -90, "grid": true, "offset": 3}},
        "color": {"field": "c", "type": "nominal", "scale": {"domain": ["SNP","INS","DEL"], "range": ["#BEBADA","#FFFFB3","#8DD3C7"]}, "legend": null}
       }},
      {"width": 88, "height": 103, "title": "SNV Class", "data": {"name": "bSNV"},
       "encoding": {
        "y": {"field": "c", "type": "nominal", "sort": null, "title": null, "scale": {"paddingInner": 0.25, "paddingOuter": 0.12}, "axis": {"ticks": false, "domain": false, "labelPadding": 3, "labelFontSize": 3.2}},
        "x": {"field": "f", "type": "quantitative", "title": null, "scale": {"domain": [0, 1]}, "axis": {"values": [0,0.25,0.5,0.75,1], "format": ".2f", "labelAngle": -90, "grid": true, "offset": 3}}
       },
       "layer": [
        {"mark": {"type": "bar"}, "encoding": {"color": {"field": "c", "type": "nominal", "scale": {"domain": ["T>G","T>A","T>C","C>T","C>G","C>A"], "range": ["#F5A300","#4CAF50","#FFC107","#F44336","#3F51B5","#2196F3"]}, "legend": null}}},
        {"mark": {"type": "text", "align": "left", "dx": 3, "fontSize": 3.4, "fontWeight": "bold"}, "encoding": {"text": {"field": "n"}}}
       ]}
     ]
    },
    {
     "spacing": 15, "bounds": "flush",
     "resolve": {"scale": {"color": "independent", "stroke": "independent"}, "legend": {"color": "independent"}},
     "hconcat": [
      {"width": 143, "height": 112, "title": {"text": "Variants per sample", "subtitle": "Median: 26", "dx": -11, "offset": 3},
       "layer": [
        {"data": {"name": "cTMB"},
         "transform": [{"lookup": "c", "from": {"data": {"name": "aOrd"}, "key": "c", "fields": ["r"]}}],
         "mark": {"type": "bar"},
         "encoding": {
          "x": {"field": "s", "type": "ordinal", "title": null, "sort": {"op": "sum", "field": "n", "order": "descending"}, "scale": {"paddingInner": 0.2, "paddingOuter": 0.1}, "axis": null},
          "y": {"field": "n", "type": "quantitative", "title": null, "scale": {"domain": [0, 457]}, "axis": {"values": [0,152,305,457]}},
          "color": {"field": "c", "type": "nominal", "scale": {"domain": ["Missense_Mutation","Frame_Shift_Del","Nonsense_Mutation","Splice_Site","In_Frame_Del","Frame_Shift_Ins","In_Frame_Ins","Multi_Hit"], "range": ["#33A02C","#1F78B4","#E31A1C","#FF7F00","#FFFF99","#6A3D9A","#D53E4F","#000000"]}, "legend": null},
          "order": {"field": "r", "type": "quantitative"}
         }},
        {"data": {"values": [{"m": 26}]}, "mark": {"type": "rule", "strokeDash": [2, 2], "strokeWidth": 0.5, "color": "#800000"}, "encoding": {"y": {"field": "m", "type": "quantitative"}}}
       ]},
      {"width": 96, "height": 112, "title": {"text": "Variant Classification", "subtitle": "summary", "dx": -2, "offset": 3}, "data": {"name": "aBox"},
       "encoding": {
        "x": {"field": "c", "type": "nominal", "sort": null, "title": null, "axis": null, "scale": {"paddingInner": 0.3, "paddingOuter": 0.3}}
       },
       "layer": [
        {"mark": {"type": "rule", "strokeWidth": 0.6}, "encoding": {"y": {"field": "lo", "type": "quantitative", "title": null, "scale": {"domain": [-33, 120]}, "axis": {"values": [3, 42, 81, 120]}}, "y2": {"field": "hi"}, "color": {"field": "c", "type": "nominal", "scale": {"domain": ["Missense_Mutation","Frame_Shift_Del","Nonsense_Mutation","Splice_Site","In_Frame_Del","Frame_Shift_Ins","In_Frame_Ins","Translation_Start_Site","Nonstop_Mutation"], "range": ["#33A02C","#1F78B4","#E31A1C","#FF7F00","#FFFF99","#6A3D9A","#D53E4F","#F46D43","#A6CEE3"]}, "legend": null}}},
        {"mark": {"type": "bar", "fill": "#D3D3D3", "strokeWidth": 0.6}, "encoding": {"y": {"field": "q1", "type": "quantitative"}, "y2": {"field": "q3"}, "stroke": {"field": "c", "type": "nominal", "scale": {"domain": ["Missense_Mutation","Frame_Shift_Del","Nonsense_Mutation","Splice_Site","In_Frame_Del","Frame_Shift_Ins","In_Frame_Ins","Translation_Start_Site","Nonstop_Mutation"], "range": ["#33A02C","#1F78B4","#E31A1C","#FF7F00","#FFFF99","#6A3D9A","#D53E4F","#F46D43","#A6CEE3"]}, "legend": null}}},
        {"mark": {"type": "tick", "orient": "horizontal", "thickness": 1, "size": 7}, "encoding": {"y": {"field": "med", "type": "quantitative"}, "color": {"field": "c", "type": "nominal", "legend": null}}}
       ]},
      {"width": 88, "height": 112, "title": {"text": "Top 10", "subtitle": "mutated genes", "dx": 3, "offset": 3}, "data": {"name": "aTop"},
       "encoding": {"y": {"field": "g", "type": "nominal", "sort": null, "title": null, "scale": {"paddingInner": 0.25, "paddingOuter": 0.12}, "axis": {"ticks": false, "domain": false, "labelFontStyle": "italic", "labelFontSize": 3.2, "labelPadding": 3}}},
       "layer": [
        {"transform": [{"lookup": "c", "from": {"data": {"name": "aOrd"}, "key": "c", "fields": ["r"]}}],
         "mark": {"type": "bar"},
         "encoding": {
          "x": {"field": "n", "type": "quantitative", "title": null, "scale": {"domain": [0, 55]}, "axis": null},
          "color": {"field": "c", "type": "nominal", "scale": {"domain": ["Missense_Mutation","Frame_Shift_Del","Nonsense_Mutation","Splice_Site","In_Frame_Del","Frame_Shift_Ins","In_Frame_Ins","Multi_Hit"], "range": ["#33A02C","#1F78B4","#E31A1C","#FF7F00","#FFFF99","#6A3D9A","#D53E4F","#000000"]}, "legend": null},
          "order": {"field": "r", "type": "quantitative"}
         }},
        {"mark": {"type": "text", "align": "left", "dx": 3, "fontSize": 3.4, "fontWeight": "bold"},
         "encoding": {"x": {"aggregate": "sum", "field": "n", "type": "quantitative"}, "text": {"field": "pct"}}}
       ]},
      {"width": 1, "height": 112, "data": {"values": []}, "mark": "point"},
      {"width": 143, "height": 112, "title": {"text": "Variants per sample", "subtitle": "Median: 34", "dx": -11, "offset": 3},
       "layer": [
        {"data": {"name": "dTMB"},
         "transform": [{"lookup": "c", "from": {"data": {"name": "aOrd"}, "key": "c", "fields": ["r"]}}],
         "mark": {"type": "bar"},
         "encoding": {
          "x": {"field": "s", "type": "ordinal", "title": null, "sort": {"op": "sum", "field": "n", "order": "descending"}, "scale": {"paddingInner": 0.2, "paddingOuter": 0.1}, "axis": null},
          "y": {"field": "n", "type": "quantitative", "title": null, "scale": {"domain": [0, 1000]}, "axis": {"values": [0,250,500,750,1000]}},
          "color": {"field": "c", "type": "nominal", "scale": {"domain": ["Missense_Mutation","Frame_Shift_Del","Nonsense_Mutation","Splice_Site","In_Frame_Del","Frame_Shift_Ins","In_Frame_Ins","Multi_Hit"], "range": ["#33A02C","#1F78B4","#E31A1C","#FF7F00","#FFFF99","#6A3D9A","#D53E4F","#000000"]}, "legend": null},
          "order": {"field": "r", "type": "quantitative"}
         }},
        {"data": {"values": [{"m": 34}]}, "mark": {"type": "rule", "strokeDash": [2, 2], "strokeWidth": 0.5, "color": "#800000"}, "encoding": {"y": {"field": "m", "type": "quantitative"}}}
       ]},
      {"width": 96, "height": 112, "title": {"text": "Variant Classification", "subtitle": "summary", "dx": -2, "offset": 3}, "data": {"name": "bBox"},
       "encoding": {
        "x": {"field": "c", "type": "nominal", "sort": null, "title": null, "axis": null, "scale": {"paddingInner": 0.3, "paddingOuter": 0.3}}
       },
       "layer": [
        {"mark": {"type": "rule", "strokeWidth": 0.6}, "encoding": {"y": {"field": "lo", "type": "quantitative", "title": null, "scale": {"domain": [-33, 108]}, "axis": {"values": [0, 36, 72, 108]}}, "y2": {"field": "hi"}, "color": {"field": "c", "type": "nominal", "scale": {"domain": ["Missense_Mutation","Frame_Shift_Del","Nonsense_Mutation","Splice_Site","In_Frame_Del","Frame_Shift_Ins","In_Frame_Ins","Translation_Start_Site","Nonstop_Mutation"], "range": ["#33A02C","#1F78B4","#E31A1C","#FF7F00","#FFFF99","#6A3D9A","#D53E4F","#F46D43","#A6CEE3"]}, "legend": null}}},
        {"mark": {"type": "bar", "fill": "#D3D3D3", "strokeWidth": 0.6}, "encoding": {"y": {"field": "q1", "type": "quantitative"}, "y2": {"field": "q3"}, "stroke": {"field": "c", "type": "nominal", "scale": {"domain": ["Missense_Mutation","Frame_Shift_Del","Nonsense_Mutation","Splice_Site","In_Frame_Del","Frame_Shift_Ins","In_Frame_Ins","Translation_Start_Site","Nonstop_Mutation"], "range": ["#33A02C","#1F78B4","#E31A1C","#FF7F00","#FFFF99","#6A3D9A","#D53E4F","#F46D43","#A6CEE3"]}, "legend": null}}},
        {"mark": {"type": "tick", "orient": "horizontal", "thickness": 1, "size": 7}, "encoding": {"y": {"field": "med", "type": "quantitative"}, "color": {"field": "c", "type": "nominal", "legend": null}}}
       ]},
      {"width": 88, "height": 112, "title": {"text": "Top 10", "subtitle": "mutated genes", "dx": 3, "offset": 3}, "data": {"name": "bTop"},
       "encoding": {"y": {"field": "g", "type": "nominal", "sort": null, "title": null, "scale": {"paddingInner": 0.25, "paddingOuter": 0.12}, "axis": {"ticks": false, "domain": false, "labelFontStyle": "italic", "labelFontSize": 3.2, "labelPadding": 3}}},
       "layer": [
        {"transform": [{"lookup": "c", "from": {"data": {"name": "bOrd"}, "key": "c", "fields": ["r"]}}],
         "mark": {"type": "bar"},
         "encoding": {
          "x": {"field": "n", "type": "quantitative", "title": null, "scale": {"domain": [0, 46]}, "axis": null},
          "color": {"field": "c", "type": "nominal", "scale": {"domain": ["Missense_Mutation","Frame_Shift_Del","Nonsense_Mutation","Splice_Site","In_Frame_Del","Frame_Shift_Ins","In_Frame_Ins","Multi_Hit"], "range": ["#33A02C","#1F78B4","#E31A1C","#FF7F00","#FFFF99","#6A3D9A","#D53E4F","#000000"]}, "legend": null},
          "order": {"field": "r", "type": "quantitative"}
         }},
        {"mark": {"type": "text", "align": "left", "dx": 3, "fontSize": 3.4, "fontWeight": "bold"},
         "encoding": {"x": {"aggregate": "sum", "field": "n", "type": "quantitative"}, "text": {"field": "pct"}}}
       ]}
     ]
    }
   ]
  },
  {
   "spacing": -10,
   "resolve": {"scale": {"color": "independent", "stroke": "independent"}, "legend": {"color": "independent"}},
   "vconcat": [
    {
     "spacing": 11, "bounds": "flush",
     "resolve": {"scale": {"color": "independent", "stroke": "independent"}, "legend": {"color": "independent"}},
     "hconcat": [
      {"width": 1, "height": 38, "title": {"text": "C", "fontSize": 15, "dx": -11, "offset": -5}, "data": {"values": []}, "mark": "point"},
      {"width": 264, "height": 38, "title": {"text": "Altered in 47 (94%) of 50 samples.", "anchor": "middle", "fontSize": 5, "dx": 31, "offset": 0.5},
       "data": {"name": "cTMB"},
       "transform": [{"filter": "datum.s <= 47"}, {"lookup": "c", "from": {"data": {"name": "cOrd"}, "key": "c", "fields": ["r"]}}],
       "mark": {"type": "bar"},
       "encoding": {
        "x": {"field": "s", "type": "ordinal", "title": null, "scale": {"domain": [1,2,3,4,5,6,7,8,9,10,11,12,13,14,15,16,17,18,19,20,21,22,23,24,25,26,27,28,29,30,31,32,33,34,35,36,37,38,39,40,41,42,43,44,45,46,47], "paddingInner": 0.15, "paddingOuter": 0.075}, "axis": null},
        "y": {"field": "n", "type": "quantitative", "title": null, "scale": {"domain": [0, 457]}, "axis": {"values": [0, 457]}},
        "color": {"field": "c", "type": "nominal", "scale": {"domain": ["Missense_Mutation","Frame_Shift_Del","Nonsense_Mutation","Splice_Site","In_Frame_Del","Frame_Shift_Ins","In_Frame_Ins","Multi_Hit"], "range": ["#33A02C","#1F78B4","#E31A1C","#FF7F00","#FFFF99","#6A3D9A","#D53E4F","#000000"]}, "legend": null},
        "order": {"field": "r", "type": "quantitative"}
       }},
      {"width": 95, "height": 38, "title": {"text": "D", "fontSize": 15, "dx": 80, "offset": -5}, "data": {"values": []}, "mark": "point"},
      {"width": 261, "height": 38, "title": {"text": "Altered in 45 (93.75%) of 48 samples.", "anchor": "middle", "fontSize": 5, "dx": 32, "offset": 0.5},
       "data": {"name": "dTMB"},
       "transform": [{"filter": "datum.s <= 45"}, {"lookup": "c", "from": {"data": {"name": "dOrdT"}, "key": "c", "fields": ["r"]}}],
       "mark": {"type": "bar"},
       "encoding": {
        "x": {"field": "s", "type": "ordinal", "title": null, "scale": {"domain": [1,2,3,4,5,6,7,8,9,10,11,12,13,14,15,16,17,18,19,20,21,22,23,24,25,26,27,28,29,30,31,32,33,34,35,36,37,38,39,40,41,42,43,44,45], "paddingInner": 0.15, "paddingOuter": 0.075}, "axis": null},
        "y": {"field": "n", "type": "quantitative", "title": null, "scale": {"domain": [0, 1000]}, "axis": {"values": [0, 1000]}},
        "color": {"field": "c", "type": "nominal", "scale": {"domain": ["Missense_Mutation","Frame_Shift_Del","Nonsense_Mutation","Splice_Site","In_Frame_Del","Frame_Shift_Ins","In_Frame_Ins","Multi_Hit"], "range": ["#33A02C","#1F78B4","#E31A1C","#FF7F00","#FFFF99","#6A3D9A","#D53E4F","#000000"]}, "legend": null},
        "order": {"field": "r", "type": "quantitative"}
       }}
     ]
    },
    {
     "spacing": 11, "bounds": "flush",
     "resolve": {"scale": {"color": "independent", "stroke": "independent"}, "legend": {"color": "independent"}},
     "hconcat": [
      {"width": 1, "height": 147, "data": {"values": []}, "mark": "point"},
      {"width": 264, "height": 147, "view": {"fill": "#CCCCCC", "stroke": null}, "data": {"name": "cCells"}, "mark": {"type": "rect"},
       "encoding": {
        "x": {"field": "s", "type": "ordinal", "title": null, "scale": {"domain": [1,2,3,4,5,6,7,8,9,10,11,12,13,14,15,16,17,18,19,20,21,22,23,24,25,26,27,28,29,30,31,32,33,34,35,36,37,38,39,40,41,42,43,44,45,46,47], "paddingInner": 0, "paddingOuter": 0}, "axis": {"labels": false, "ticks": false, "domain": false, "grid": true, "gridColor": "#FFFFFF", "gridWidth": 0.8, "bandPosition": 0, "zindex": 1}},
        "y": {"field": "g", "type": "nominal", "title": null, "scale": {"domain": ["TP53","TTN","UTP20","CSMD3","DUSP27","DYNC2H1","FAM83C","FAT3","LAMA3","MUC4","NF1","AHCTF1","DNAH11","DNAH9","FBXW7","FER1L5","FREM2","GBP1","MAP1A","PTEN"], "paddingInner": 0, "paddingOuter": 0}, "axis": {"ticks": false, "domain": false, "labelFontSize": 4.5, "labelFontStyle": "italic", "labelPadding": 2, "grid": true, "gridColor": "#FFFFFF", "gridWidth": 0.8, "bandPosition": 0, "zindex": 1}},
        "color": {"field": "c", "type": "nominal", "title": null, "scale": {"domain": ["Frame_Shift_Del","Missense_Mutation","Nonsense_Mutation","Frame_Shift_Ins","Splice_Site","In_Frame_Ins","In_Frame_Del","Multi_Hit"], "range": ["#1F78B4","#33A02C","#E31A1C","#6A3D9A","#FF7F00","#D53E4F","#FFFF99","#000000"]}, "legend": {"orient": "none", "legendX": -16, "legendY": 156, "columns": 2, "symbolType": "circle", "symbolSize": 6, "symbolStrokeWidth": 0, "labelFontSize": 4.5, "labelFontStyle": "italic", "columnPadding": 9, "rowPadding": 3, "labelOffset": 3}}
       }},
      {"width": 71, "height": 147,
       "layer": [
        {"data": {"name": "cCells"},
         "transform": [{"lookup": "c", "from": {"data": {"name": "cOrd"}, "key": "c", "fields": ["r"]}}],
         "mark": {"type": "bar"},
         "encoding": {
          "y": {"field": "g", "type": "nominal", "title": null, "scale": {"domain": ["TP53","TTN","UTP20","CSMD3","DUSP27","DYNC2H1","FAM83C","FAT3","LAMA3","MUC4","NF1","AHCTF1","DNAH11","DNAH9","FBXW7","FER1L5","FREM2","GBP1","MAP1A","PTEN"], "paddingInner": 0.15, "paddingOuter": 0.075}, "axis": null},
          "x": {"aggregate": "count", "type": "quantitative", "title": null, "scale": {"domain": [0, 45]}, "axis": {"orient": "top", "values": [0, 45], "offset": 2}},
          "color": {"field": "c", "type": "nominal", "scale": {"domain": ["Missense_Mutation","Frame_Shift_Del","Nonsense_Mutation","Splice_Site","In_Frame_Del","Frame_Shift_Ins","In_Frame_Ins","Multi_Hit"], "range": ["#33A02C","#1F78B4","#E31A1C","#FF7F00","#FFFF99","#6A3D9A","#D53E4F","#000000"]}, "legend": null},
          "order": {"field": "r", "type": "quantitative"}
         }},
        {"data": {"name": "cGenes"}, "mark": {"type": "text", "align": "right", "dx": -2, "fontSize": 4.5},
         "encoding": {"y": {"field": "g", "type": "nominal"}, "x": {"datum": 0}, "text": {"field": "pct"}}}
       ]},
      {"width": 13, "height": 147, "data": {"values": []}, "mark": "point"},
      {"width": 261, "height": 147, "view": {"fill": "#CCCCCC", "stroke": null}, "data": {"name": "dCells"}, "mark": {"type": "rect"},
       "encoding": {
        "x": {"field": "s", "type": "ordinal", "title": null, "scale": {"domain": [1,2,3,4,5,6,7,8,9,10,11,12,13,14,15,16,17,18,19,20,21,22,23,24,25,26,27,28,29,30,31,32,33,34,35,36,37,38,39,40,41,42,43,44,45], "paddingInner": 0, "paddingOuter": 0}, "axis": {"labels": false, "ticks": false, "domain": false, "grid": true, "gridColor": "#FFFFFF", "gridWidth": 0.8, "bandPosition": 0, "zindex": 1}},
        "y": {"field": "g", "type": "nominal", "title": null, "scale": {"domain": ["TP53","TTN","MUC16","FAT3","KMT2D","PIK3CA","PTEN","SYNE1","HYDIN","MUC4","PKHD1L1","USH2A","ANKRD30C","CCDC168","COL5A1","DMGDH","DNAH17","KIF26B","SEMA4F","SMG1"], "paddingInner": 0, "paddingOuter": 0}, "axis": {"ticks": false, "domain": false, "labelFontSize": 4.5, "labelFontStyle": "italic", "labelPadding": 2, "grid": true, "gridColor": "#FFFFFF", "gridWidth": 0.8, "bandPosition": 0, "zindex": 1}},
        "color": {"field": "c", "type": "nominal", "title": null, "scale": {"domain": ["Missense_Mutation","Splice_Site","Frame_Shift_Ins","Nonsense_Mutation","Frame_Shift_Del","In_Frame_Del","In_Frame_Ins","Multi_Hit"], "range": ["#33A02C","#FF7F00","#6A3D9A","#E31A1C","#1F78B4","#FFFF99","#D53E4F","#000000"]}, "legend": {"orient": "none", "legendX": -16, "legendY": 156, "columns": 2, "symbolType": "circle", "symbolSize": 6, "symbolStrokeWidth": 0, "labelFontSize": 4.5, "labelFontStyle": "italic", "columnPadding": 9, "rowPadding": 3, "labelOffset": 3}}
       }},
      {"width": 70, "height": 147,
       "layer": [
        {"data": {"name": "dCells"},
         "transform": [{"lookup": "c", "from": {"data": {"name": "dOrd"}, "key": "c", "fields": ["r"]}}],
         "mark": {"type": "bar"},
         "encoding": {
          "y": {"field": "g", "type": "nominal", "title": null, "scale": {"domain": ["TP53","TTN","MUC16","FAT3","KMT2D","PIK3CA","PTEN","SYNE1","HYDIN","MUC4","PKHD1L1","USH2A","ANKRD30C","CCDC168","COL5A1","DMGDH","DNAH17","KIF26B","SEMA4F","SMG1"], "paddingInner": 0.15, "paddingOuter": 0.075}, "axis": null},
          "x": {"aggregate": "count", "type": "quantitative", "title": null, "scale": {"domain": [0, 38]}, "axis": {"orient": "top", "values": [0, 38], "offset": 2}},
          "color": {"field": "c", "type": "nominal", "scale": {"domain": ["Missense_Mutation","Frame_Shift_Del","Nonsense_Mutation","Splice_Site","In_Frame_Del","Frame_Shift_Ins","In_Frame_Ins","Multi_Hit"], "range": ["#33A02C","#1F78B4","#E31A1C","#FF7F00","#FFFF99","#6A3D9A","#D53E4F","#000000"]}, "legend": null},
          "order": {"field": "r", "type": "quantitative"}
         }},
        {"data": {"name": "dGenes"}, "mark": {"type": "text", "align": "right", "dx": -2, "fontSize": 4.5},
         "encoding": {"y": {"field": "g", "type": "nominal"}, "x": {"datum": 0}, "text": {"field": "pct"}}}
       ]}
     ]
    }
   ]
  }
 ]
}
